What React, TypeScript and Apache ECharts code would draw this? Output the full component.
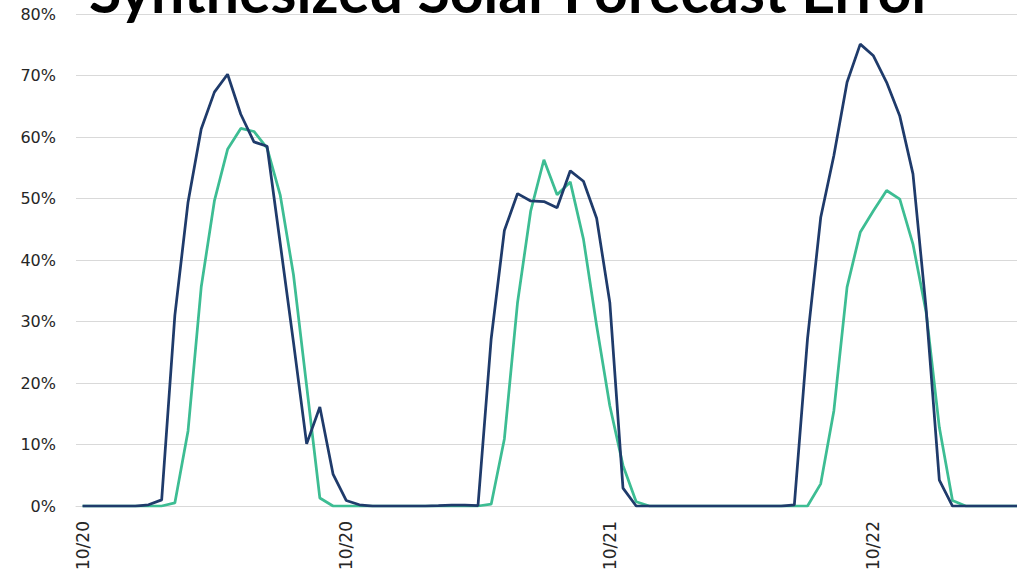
import React, { useEffect, useRef } from "react";
import * as echarts from "echarts";

const titleText = "Synthesized Solar Forecast Error";

// x positions: one category per data point, date ticks every 20 points
const tickLabels = ["10/20", "10/20", "10/21", "10/22"];
const tickEvery = 20;
const pointCount = 72;
const categories = Array.from({ length: pointCount }, (_, i) => String(i));

const yTicks = [0, 10, 20, 30, 40, 50, 60, 70, 80];

const navySeries = [
  0, 0, 0, 0, 0, 0.2, 1, 31, 49.4, 61.3,
  67.3, 70.2, 63.7, 59.2, 58.5, 42.6, 26.6, 10.1, 16.1, 5.2,
  0.9, 0.2, 0, 0, 0, 0, 0, 0.05, 0.15, 0.15,
  0.05, 27.2, 44.8, 50.8, 49.6, 49.5, 48.5, 54.5, 52.8, 46.8,
  33.1, 2.9, 0, 0, 0, 0, 0, 0, 0, 0,
  0, 0, 0, 0, 0.2, 27.2, 46.9, 57, 68.9, 75.1,
  73.2, 68.9, 63.4, 54, 32, 4.2, 0, 0, 0, 0,
  0, 0,
];

const greenSeries = [
  0, 0, 0, 0, 0, 0, 0, 0.5, 12.2, 35.6,
  49.6, 58, 61.4, 60.9, 58.2, 50.5, 37.6, 19.5, 1.3, 0,
  0, 0, 0, 0, 0, 0, 0, 0, 0, 0,
  0, 0.3, 10.9, 33.1, 48, 56.3, 50.6, 52.7, 43.4, 29.3,
  16.3, 6.6, 0.7, 0, 0, 0, 0, 0, 0, 0,
  0, 0, 0, 0, 0, 0, 3.6, 15.5, 35.6, 44.5,
  48, 51.3, 49.9, 42.6, 31.5, 12.8, 0.9, 0, 0, 0,
  0, 0,
];

export default function App() {
  const ref = useRef<HTMLDivElement>(null);

  useEffect(() => {
    if (!ref.current) return;
    const chart = echarts.init(ref.current, undefined, { renderer: "svg" });
    chart.setOption({
      animation: false,
      backgroundColor: "#ffffff",
      grid: { left: 76, right: 0, top: 14, height: 493, containLabel: false },
      xAxis: {
        type: "category",
        data: categories,
        boundaryGap: true,
        axisLine: { show: true, lineStyle: { color: "#d9d9d9", width: 1 } },
        axisTick: { show: false },
        splitLine: { show: false },
        axisLabel: {
          interval: tickEvery - 1,
          rotate: 90,
          margin: 15,
          fontFamily: "DejaVu Sans",
          fontSize: 17,
          color: "#262626",
          formatter: (_v: string, idx: number) =>
            idx % tickEvery === 0 ? tickLabels[idx / tickEvery] ?? "" : "",
        },
      },
      yAxis: {
        type: "value",
        min: yTicks[0],
        max: yTicks[yTicks.length - 1],
        interval: yTicks[1] - yTicks[0],
        axisLine: { show: false },
        axisTick: { show: false },
        splitLine: { show: true, lineStyle: { color: "#d9d9d9", width: 1 } },
        axisLabel: {
          margin: 20,
          fontFamily: "DejaVu Sans",
          fontSize: 16,
          color: "#262626",
          formatter: "{value}%",
        },
      },
      series: [
        {
          type: "line",
          data: navySeries,
          showSymbol: false,
          symbol: "none",
          lineStyle: { color: "#1f3b6b", width: 2.75 },
          itemStyle: { color: "#1f3b6b" },
          z: 3,
        },
        {
          type: "line",
          data: greenSeries,
          showSymbol: false,
          symbol: "none",
          lineStyle: { color: "#3dbd93", width: 2.75 },
          itemStyle: { color: "#3dbd93" },
          z: 2,
        },
      ],
      graphic: [
        {
          type: "text",
          left: 89,
          top: -39,
          z: 10,
          style: {
            text: titleText,
            fontFamily: "Lato",
            fontWeight: "bold",
            fontSize: 59,
            fill: "#000000",
          },
        },
      ],
    });
    return () => chart.dispose();
  }, []);

  return (
    <div
      style={{
        position: "fixed",
        left: 0,
        top: 0,
        width: 1017,
        height: 573,
        overflow: "hidden",
        background: "#fff",
      }}
    >
      <div ref={ref} style={{ width: 1025, height: 573 }} />
    </div>
  );
}
